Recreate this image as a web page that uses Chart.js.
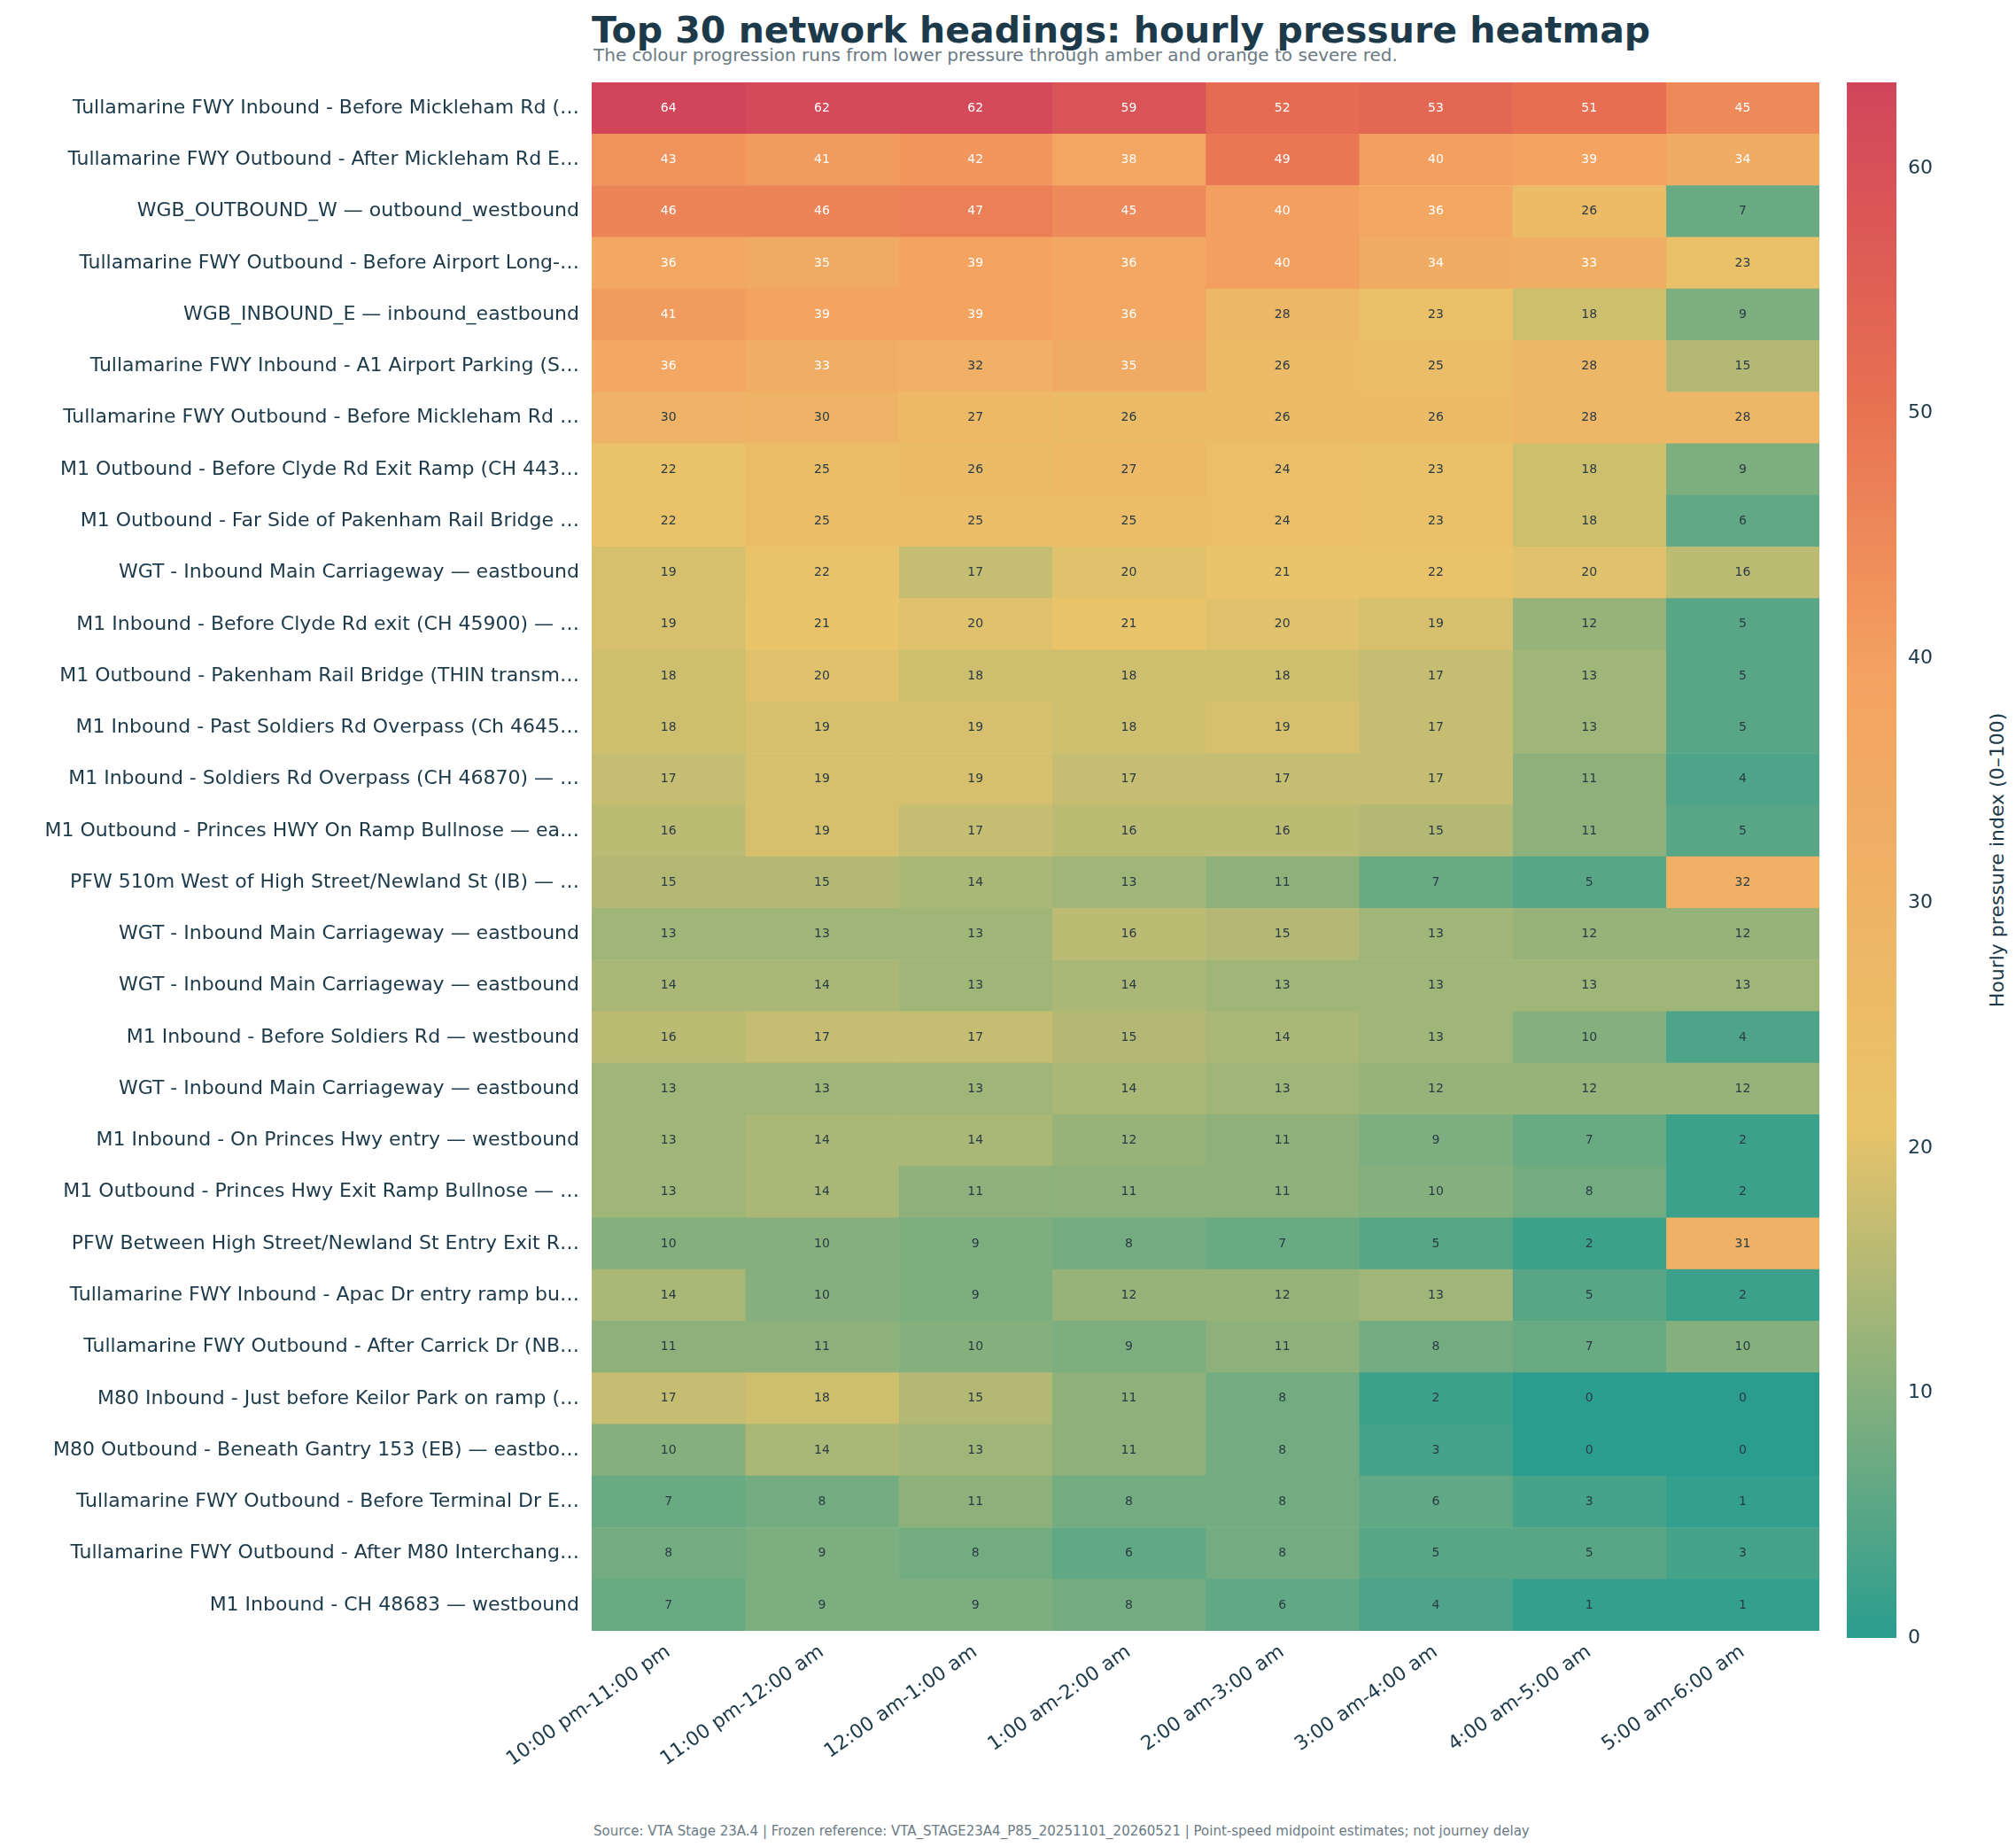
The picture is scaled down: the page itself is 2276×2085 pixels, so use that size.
<!DOCTYPE html>
<html>
<head>
<meta charset="utf-8">
<script src="https://cdn.jsdelivr.net/npm/chart.js@4"></script>
<style>
  body { margin:0; background:#fff; width:2276px; height:2085px; position:relative; overflow:hidden; font-family:"DejaVu Sans", sans-serif; }
  #main { position:absolute; left:0; top:0; }
  #bar { position:absolute; left:2048px; top:0; }
  .t { position:absolute; color:#1d3a4a; white-space:nowrap; }
</style>
</head>
<body>
<div class="t" style="left:668px;top:10px;font-size:41px;font-weight:bold;">Top 30 network headings: hourly pressure heatmap</div>
<div class="t" style="left:670px;top:50px;font-size:20px;color:#6b7a84;">The colour progression runs from lower pressure through amber and orange to severe red.</div>
<div class="t" style="left:670px;top:2058px;font-size:15px;color:#6b7a84;">Source: VTA Stage 23A.4 | Frozen reference: VTA_STAGE23A4_P85_20251101_20260521 | Point-speed midpoint estimates; not journey delay</div>
<div class="t" style="left:2254px;top:971px;font-size:22px;transform:translate(-50%,-50%) rotate(-90deg);">Hourly pressure index (0–100)</div>
<canvas id="main" width="2090" height="2085"></canvas>
<canvas id="bar" width="212" height="2085"></canvas>
<script>
const hours = ['10:00 pm-11:00 pm','11:00 pm-12:00 am','12:00 am-1:00 am','1:00 am-2:00 am','2:00 am-3:00 am','3:00 am-4:00 am','4:00 am-5:00 am','5:00 am-6:00 am'];
const roads = [
  'Tullamarine FWY Inbound - Before Mickleham Rd (…',
  'Tullamarine FWY Outbound - After Mickleham Rd E…',
  'WGB_OUTBOUND_W — outbound_westbound',
  'Tullamarine FWY Outbound - Before Airport Long-…',
  'WGB_INBOUND_E — inbound_eastbound',
  'Tullamarine FWY Inbound - A1 Airport Parking (S…',
  'Tullamarine FWY Outbound - Before Mickleham Rd …',
  'M1 Outbound - Before Clyde Rd Exit Ramp (CH 443…',
  'M1 Outbound - Far Side of Pakenham Rail Bridge …',
  'WGT - Inbound Main Carriageway — eastbound',
  'M1 Inbound - Before Clyde Rd exit (CH 45900) — …',
  'M1 Outbound - Pakenham Rail Bridge (THIN transm…',
  'M1 Inbound - Past Soldiers Rd Overpass (Ch 4645…',
  'M1 Inbound - Soldiers Rd Overpass (CH 46870) — …',
  'M1 Outbound - Princes HWY On Ramp Bullnose — ea…',
  'PFW 510m West of High Street/Newland St (IB) — …',
  'WGT - Inbound Main Carriageway — eastbound',
  'WGT - Inbound Main Carriageway — eastbound',
  'M1 Inbound - Before Soldiers Rd — westbound',
  'WGT - Inbound Main Carriageway — eastbound',
  'M1 Inbound - On Princes Hwy entry — westbound',
  'M1 Outbound - Princes Hwy Exit Ramp Bullnose — …',
  'PFW Between High Street/Newland St Entry Exit R…',
  'Tullamarine FWY Inbound - Apac Dr entry ramp bu…',
  'Tullamarine FWY Outbound - After Carrick Dr (NB…',
  'M80 Inbound - Just before Keilor Park on ramp (…',
  'M80 Outbound - Beneath Gantry 153 (EB) — eastbo…',
  'Tullamarine FWY Outbound - Before Terminal Dr E…',
  'Tullamarine FWY Outbound - After M80 Interchang…',
  'M1 Inbound - CH 48683 — westbound'
];
const pressure = [
  [64,62,62,59,52,53,51,45],
  [43,41,42,38,49,40,39,34],
  [46,46,47,45,40,36,26,7],
  [36,35,39,36,40,34,33,23],
  [41,39,39,36,28,23,18,9],
  [36,33,32,35,26,25,28,15],
  [30,30,27,26,26,26,28,28],
  [22,25,26,27,24,23,18,9],
  [22,25,25,25,24,23,18,6],
  [19,22,17,20,21,22,20,16],
  [19,21,20,21,20,19,12,5],
  [18,20,18,18,18,17,13,5],
  [18,19,19,18,19,17,13,5],
  [17,19,19,17,17,17,11,4],
  [16,19,17,16,16,15,11,5],
  [15,15,14,13,11,7,5,32],
  [13,13,13,16,15,13,12,12],
  [14,14,13,14,13,13,13,13],
  [16,17,17,15,14,13,10,4],
  [13,13,13,14,13,12,12,12],
  [13,14,14,12,11,9,7,2],
  [13,14,11,11,11,10,8,2],
  [10,10,9,8,7,5,2,31],
  [14,10,9,12,12,13,5,2],
  [11,11,10,9,11,8,7,10],
  [17,18,15,11,8,2,0,0],
  [10,14,13,11,8,3,0,0],
  [7,8,11,8,8,6,3,1],
  [8,9,8,6,8,5,5,3],
  [7,9,9,8,6,4,1,1]
];
const vmax = 63.5;
const stops = [[0,[42,157,143]],[0.33,[233,196,106]],[0.62,[244,162,97]],[0.8,[231,111,81]],[1,[209,69,91]]];

function colour(v) {
  let t = Math.max(0, Math.min(1, v / vmax));
  for (let i = 1; i < stops.length; i++) {
    if (t <= stops[i][0]) {
      let a = stops[i-1], b = stops[i], f = (t - a[0]) / (b[0] - a[0]);
      let c = a[1].map((x, k) => Math.round(x + (b[1][k] - x) * f));
      return `rgb(${c[0]},${c[1]},${c[2]})`;
    }
  }
  return 'rgb(209,69,91)';
}

const ink = '#1d3a4a';
const datasets = hours.map((h, c) => ({
  label: h,
  data: roads.map(() => [c, c + 1]),
  backgroundColor: pressure.map(r => colour(r[c])),
  borderWidth: 0,
  barPercentage: 1,
  categoryPercentage: 1,
  grouped: false
}));

const cellText = {
  id: 'cellText',
  afterDatasetsDraw(chart) {
    const ctx = chart.ctx;
    ctx.save();
    ctx.font = '14px "DejaVu Sans"';
    ctx.textAlign = 'center';
    ctx.textBaseline = 'middle';
    chart.data.datasets.forEach((ds, c) => {
      chart.getDatasetMeta(c).data.forEach((bar, r) => {
        let v = pressure[r][c];
        ctx.fillStyle = v >= 33 ? '#ffffff' : '#2a3b44';
        ctx.fillText(v, (bar.x + bar.base) / 2, bar.y);
      });
    });
    ctx.restore();
  }
};

new Chart(document.getElementById('main'), {
  type: 'bar',
  data: { labels: roads, datasets: datasets },
  options: {
    indexAxis: 'y',
    responsive: false,
    animation: false,
    layout: { padding: { top: 93, right: 36, bottom: 40, left: 0 } },
    plugins: { legend: { display: false }, tooltip: { enabled: false } },
    scales: {
      x: {
        type: 'linear', min: 0, max: 8,
        afterBuildTicks: s => { s.ticks = hours.map((h, i) => ({ value: i + 0.5 })); },
        afterFit: s => { s.height = 204; },
        ticks: { callback: (v) => hours[Math.floor(v)], color: ink, font: { size: 22, family: 'DejaVu Sans' }, maxRotation: 35, minRotation: 35, autoSkip: false },
        grid: { display: false, drawTicks: true, tickLength: 8, tickColor: '#555' },
        border: { display: false }
      },
      y: {
        afterFit: s => { s.width = 668; },
        ticks: { color: ink, font: { size: 22, family: 'DejaVu Sans' }, autoSkip: false, padding: 6 },
        grid: { display: false, drawTicks: true, tickLength: 8, tickColor: '#555' },
        border: { display: false }
      }
    }
  },
  plugins: [cellText]
});

new Chart(document.getElementById('bar'), {
  type: 'bar',
  data: {
    labels: [''],
    datasets: [{
      data: [[0, vmax]],
      barPercentage: 1, categoryPercentage: 1, borderWidth: 0,
      backgroundColor: (ctx) => {
        const a = ctx.chart.chartArea;
        if (!a) return '#ccc';
        const g = ctx.chart.ctx.createLinearGradient(0, a.bottom, 0, a.top);
        stops.forEach(s => g.addColorStop(s[0], `rgb(${s[1].join(',')})`));
        return g;
      }
    }]
  },
  options: {
    responsive: false,
    animation: false,
    layout: { padding: { top: 93, right: 0, bottom: 236, left: 37 } },
    plugins: { legend: { display: false }, tooltip: { enabled: false } },
    scales: {
      x: { display: false },
      y: {
        position: 'right', min: 0, max: vmax,
        afterFit: s => { s.width = 119; },
        afterBuildTicks: s => { s.ticks = [0,10,20,30,40,50,60].map(v => ({ value: v })); },
        ticks: { color: ink, font: { size: 22, family: 'DejaVu Sans' }, padding: 6 },
        grid: { display: false, drawTicks: true, tickLength: 7, tickColor: '#555' },
        border: { display: false }
      }
    }
  }
});
</script>
</body>
</html>
